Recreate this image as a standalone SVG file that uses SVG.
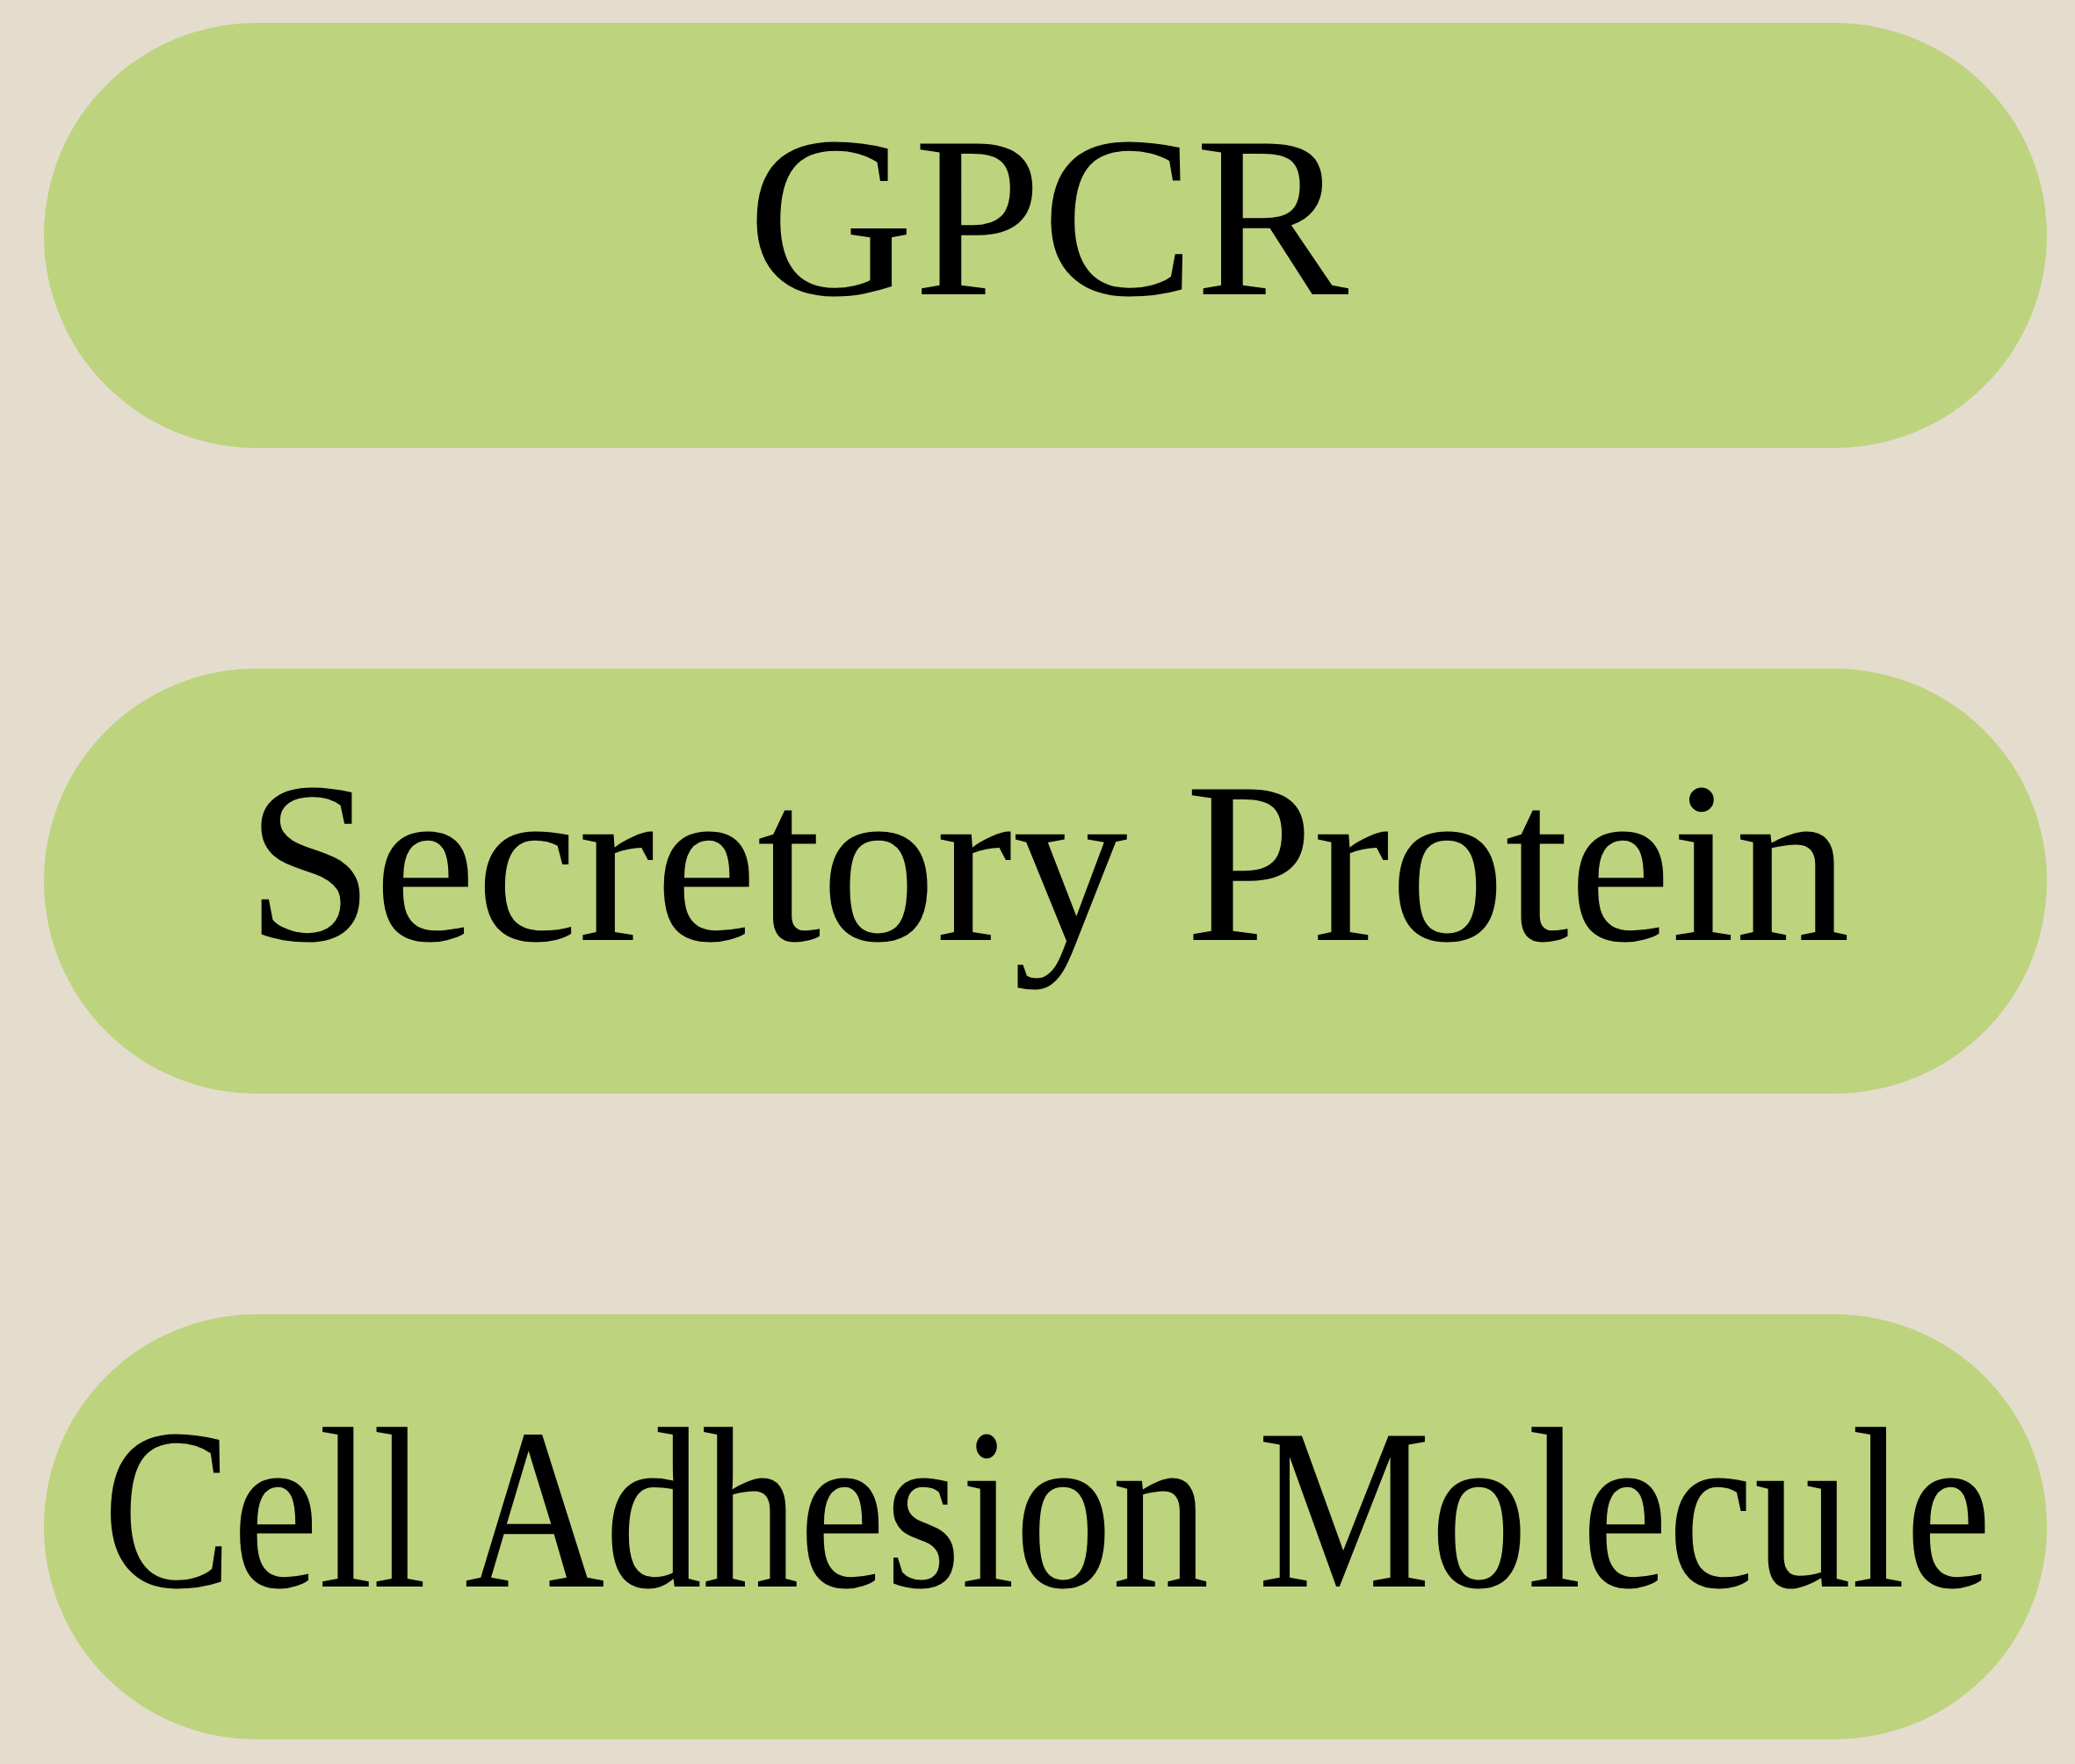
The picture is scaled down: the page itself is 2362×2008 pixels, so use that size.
<svg xmlns="http://www.w3.org/2000/svg" width="2362" height="2008" viewBox="0 0 2362 2008">
<style>
.pill{fill:#BDD37E;}
.lbl{font-family:"Liberation Serif","Times New Roman",serif;font-size:262px;fill:#000;text-anchor:middle;}
</style>
<rect x="0" y="0" width="2362" height="2008" fill="#E4DDCE"/>
<g id="node-gpcr">
<rect class="pill" x="50" y="26" width="2280" height="484" rx="242" ry="242"/>
<text class="lbl" x="1193" y="335">GPCR</text>
</g>
<g id="node-secretory">
<rect class="pill" x="50" y="761" width="2280" height="484" rx="242" ry="242"/>
<text class="lbl" x="1193" y="1070">Secretory Protein</text>
</g>
<g id="node-cam">
<rect class="pill" x="50" y="1496" width="2280" height="484" rx="242" ry="242"/>
<text class="lbl" x="1192" y="1806" textLength="2150" lengthAdjust="spacingAndGlyphs">Cell Adhesion Molecule</text>
</g>
<g id="connectors"></g>
</svg>
